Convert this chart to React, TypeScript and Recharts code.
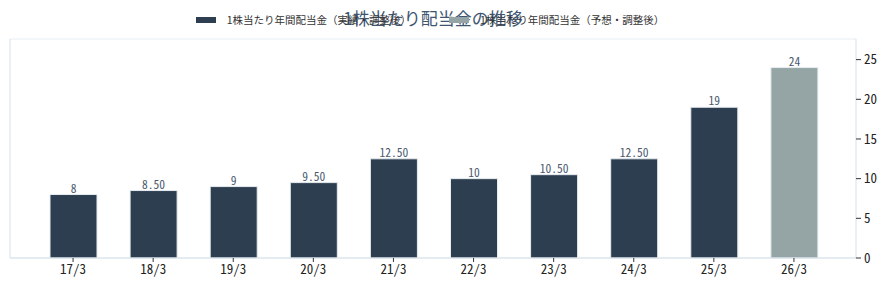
import React from "react";
import { BarChart, Bar, XAxis, YAxis, CartesianGrid, Legend, Cell, LabelList } from "recharts";

const categories = ["17/3", "18/3", "19/3", "20/3", "21/3", "22/3", "23/3", "24/3", "25/3", "26/3"];
const dividends = [8, 8.5, 9, 9.5, 12.5, 10, 10.5, 12.5, 19, 24];
const valueLabels = ["8", "8.50", "9", "9.50", "12.50", "10", "10.50", "12.50", "19", "24"];
const isForecast = [false, false, false, false, false, false, false, false, false, true];
const yTicks = [0, 5, 10, 15, 20, 25];
const seriesNames = ["1株当たり年間配当金（実績・調整後）", "1株当たり年間配当金（予想・調整後）"];
const title = "1株当たり配当金の推移";

const ACTUAL = "#2c3e50";
const FORECAST = "#95a5a6";
const FONT = "'Noto Sans Mono CJK JP', 'Noto Sans CJK JP', monospace";
const LEGEND_FONT = "'Noto Sans CJK JP', sans-serif";

const data = categories.map((c, i) => ({
  name: c,
  value: dividends[i],
  label: valueLabels[i],
  forecast: isForecast[i],
}));

const LegendContent = () => (
  <div style={{ display: "flex", justifyContent: "center", alignItems: "center", fontFamily: LEGEND_FONT, fontSize: 10.5, color: "#333", height: 14, lineHeight: "14px" }}>
    {seriesNames.map((n, i) => (
      <div key={n} style={{ display: "flex", alignItems: "center", marginRight: i === 0 ? 38 : 0 }}>
        <span style={{ display: "inline-block", width: 20, height: 6, background: i === 0 ? ACTUAL : FORECAST, marginRight: 11 }} />
        <span>{n}</span>
      </div>
    ))}
  </div>
);

export default function App() {
  return (
    <div style={{ position: "absolute", left: 0, top: 0, width: 889, height: 290, background: "#fff" }}>
      <div
        style={{
          position: "absolute",
          left: 10,
          top: 8,
          width: 846,
          textAlign: "center",
          fontFamily: LEGEND_FONT,
          fontSize: 17,
          color: "#3e5672",
          lineHeight: "20px",
        }}
      >
        {title}
      </div>
      <BarChart
        width={889}
        height={290}
        data={data}
        margin={{ top: 25, right: 0, bottom: 0, left: 0 }}
        style={{ position: "absolute", left: 0, top: 0 }}
      >
        <CartesianGrid vertical={false} stroke="#e8eef3" strokeWidth={1} />
        <Legend verticalAlign="top" align="center" wrapperStyle={{ top: 13, left: 7, width: 846 }} content={<LegendContent />} />
        <XAxis
          dataKey="name"
          xAxisId="main"
          height={32}
          padding={{ left: 23, right: 22 }}
          axisLine={{ stroke: "#d5e1ea" }}
          tickLine={{ stroke: "#333" }}
          tickSize={4}
          tick={{ fill: "#222", fontSize: 13, fontFamily: FONT }}
          tickMargin={3}
          interval={0}
        />
        <XAxis xAxisId="top" orientation="top" dataKey="name" height={0} tick={false} tickLine={false} axisLine={{ stroke: "#d5e1ea" }} />
        <YAxis
          yAxisId="right"
          orientation="right"
          width={33}
          domain={[0, 27.6]}
          ticks={yTicks}
          axisLine={{ stroke: "#d5e1ea" }}
          tickLine={{ stroke: "#333" }}
          tickSize={5}
          tickMargin={3}
          tick={{ fill: "#222", fontSize: 13, fontFamily: FONT, textAnchor: "start" }}
        />
        <YAxis yAxisId="left" orientation="left" width={10} tick={false} tickLine={false} axisLine={{ stroke: "#d5e1ea" }} domain={[0, 27.6]} />
        <Bar dataKey="value" xAxisId="main" yAxisId="right" barSize={47} stroke="#e6ecf0" strokeWidth={1} isAnimationActive={false}>
          {data.map((d) => (
            <Cell key={d.name} fill={d.forecast ? FORECAST : ACTUAL} />
          ))}
          <LabelList dataKey="label" position="top" offset={2} fill="#4a5a70" fontSize={11.5} fontFamily={FONT} />
        </Bar>
      </BarChart>
    </div>
  );
}
